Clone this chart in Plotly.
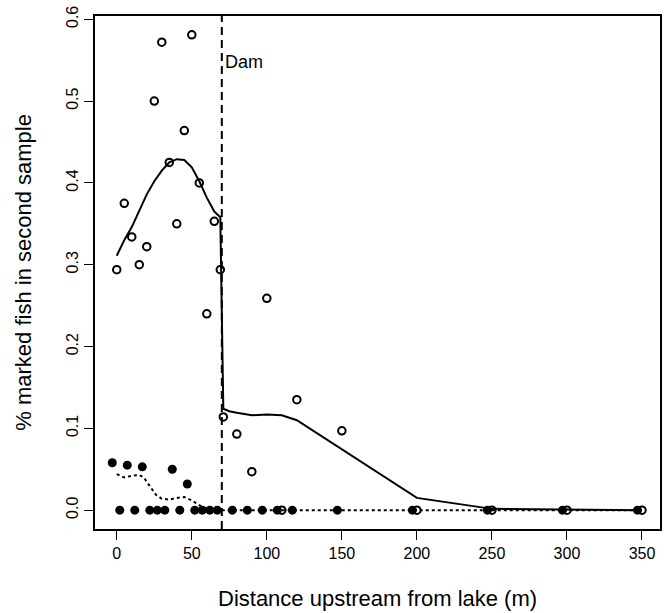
import plotly.graph_objects as go

# open circles: % marked fish (first group)
open_x = [0, 5, 10, 15, 20, 25, 30, 35, 40, 45, 50, 55, 60, 65, 69, 71, 80, 90, 100, 110, 120, 150, 200, 250, 300, 350]
open_y = [0.294, 0.375, 0.334, 0.300, 0.322, 0.500, 0.572, 0.425, 0.350, 0.464, 0.581, 0.400, 0.240, 0.353,
          0.294, 0.114, 0.093, 0.047, 0.259, 0.0, 0.135, 0.097, 0.0, 0.0, 0.0, 0.0]

# filled circles: second group
filled_x = [-3, 2, 7, 12, 17, 22, 27, 32, 37, 42, 47, 52, 57, 62, 67, 77, 87, 97, 107, 117, 147, 197, 247, 297, 347]
filled_y = [0.058, 0.0, 0.055, 0.0, 0.053, 0.0, 0.0, 0.0, 0.050, 0.0, 0.032, 0.0, 0.0, 0.0, 0.0,
            0.0, 0.0, 0.0, 0.0, 0.0, 0.0, 0.0, 0.0, 0.0, 0.0]

# smoothed fits
fit_open_x = [0, 5, 10, 15, 20, 25, 30, 35, 40, 45, 50, 55, 60, 65, 69, 71, 75, 80, 90, 100, 110, 120, 200, 250, 300, 350]
fit_open_y = [0.311, 0.330, 0.346, 0.366, 0.386, 0.402, 0.415, 0.425, 0.429, 0.428, 0.419, 0.402, 0.382, 0.365,
              0.358, 0.124, 0.121, 0.119, 0.116, 0.117, 0.116, 0.110, 0.015, 0.0016, 0.0005, 0.0]

fit_filled_x = [0, 5, 10, 15, 18, 22, 26, 30, 35, 40, 45, 50, 55, 60, 65, 350]
fit_filled_y = [0.044, 0.040, 0.042, 0.043, 0.040, 0.029, 0.019, 0.014, 0.013, 0.015, 0.016, 0.012, 0.006, 0.002, 0.0, 0.0]

dam_x = 70
x_ticks = [0, 50, 100, 150, 200, 250, 300, 350]
y_ticks = [0.0, 0.1, 0.2, 0.3, 0.4, 0.5, 0.6]

font_family = "Liberation Sans, Arial, Helvetica, sans-serif"

fig = go.Figure()

fig.add_trace(go.Scatter(x=fit_open_x, y=fit_open_y, mode='lines',
                         line=dict(color='black', width=2)))
fig.add_trace(go.Scatter(x=fit_filled_x, y=fit_filled_y, mode='lines',
                         line=dict(color='black', width=2, dash='3px,3px')))
fig.add_trace(go.Scatter(x=filled_x, y=filled_y, mode='markers',
                         marker=dict(symbol='circle', size=9, color='black')))
fig.add_trace(go.Scatter(x=open_x, y=open_y, mode='markers',
                         marker=dict(symbol='circle-open', size=7.5, color='black', line=dict(width=2))))

# dam position
fig.add_vline(x=dam_x, line=dict(color='black', width=2, dash='8px,5px'))
fig.add_annotation(x=dam_x, y=0.548, text="Dam", showarrow=False, xanchor='left', xshift=1,
                   font=dict(size=18, color='black', family=font_family))

# axis titles placed like R's mtext lines
fig.add_annotation(xref='paper', yref='paper', x=0.5, y=-0.135, text="Distance upstream from lake (m)",
                   showarrow=False, xanchor='center', yanchor='middle',
                   font=dict(size=22, color='black', family=font_family))
fig.add_annotation(xref='paper', yref='paper', x=-0.127, y=0.5, text="% marked fish in second sample",
                   showarrow=False, textangle=-90, xanchor='center', yanchor='middle',
                   font=dict(size=22, color='black', family=font_family))

axis_common = dict(showgrid=False, zeroline=False, showline=True, mirror=True, linecolor='black', linewidth=1.5,
                   ticks='outside', ticklen=9, tickwidth=1, tickcolor='black', automargin=False,
                   ticklabeloverflow='allow',
                   tickfont=dict(size=16, color='black', family=font_family))

fig.update_layout(
    width=667, height=613,
    margin=dict(l=95, r=7, t=16, b=84),
    plot_bgcolor='white', paper_bgcolor='white',
    showlegend=False,
    font=dict(family=font_family, color='black'),
    xaxis=dict(range=[-14.5, 362], tickvals=x_ticks, **axis_common),
    yaxis=dict(range=[-0.023, 0.604], tickvals=y_ticks, tickformat='.1f', tickangle=-90, **axis_common),
)

# drop the page's default 8px body margin so the figure sits at the top-left corner
fig.write_html("out.html", config={'displayModeBar': False},
               post_script="document.body.style.margin='0';")
